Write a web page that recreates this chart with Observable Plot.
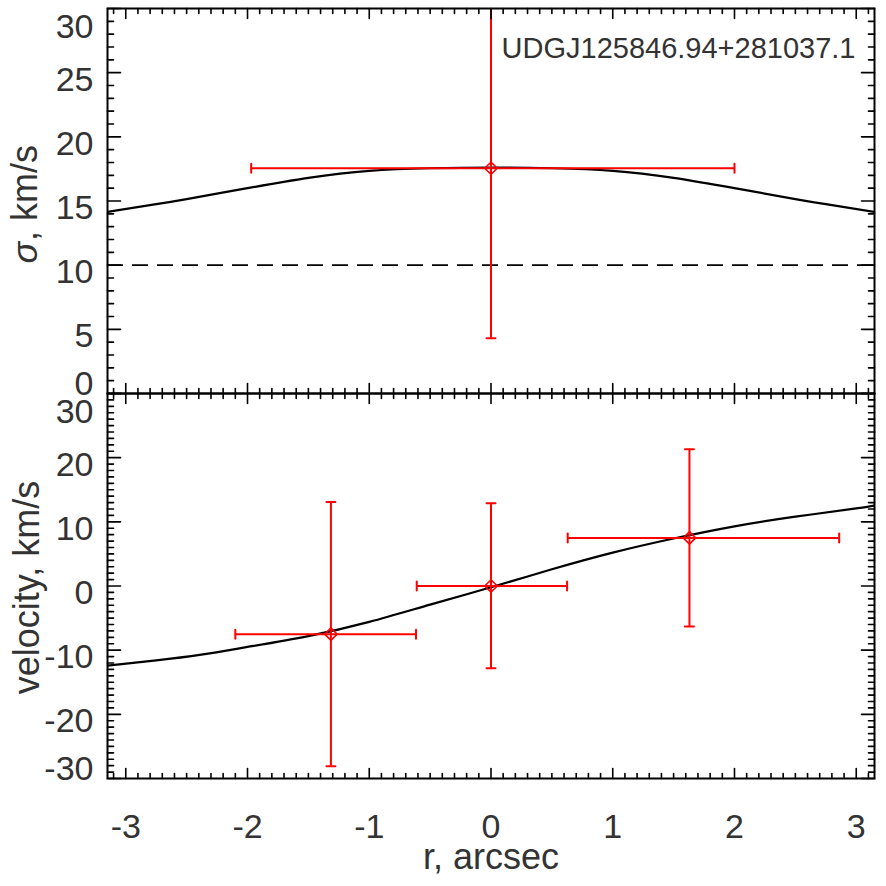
<!DOCTYPE html>
<html><head><meta charset="utf-8">
<script src="https://cdn.jsdelivr.net/npm/d3@7"></script>
<script src="https://cdn.jsdelivr.net/npm/@observablehq/plot@0.6"></script>
<style>
html,body{margin:0;padding:0;background:#fff;}
#chart{width:886px;height:886px;}
#chart svg{display:block;}
</style></head><body><div id="chart"></div>
<script>
// ---------- text ----------
const titleText = "UDGJ125846.94+281037.1";
const xTitle = "r, arcsec";
const sigmaSymbol = "σ";
const sigmaTitleRest = ", km/s";
const velTitle = "velocity, km/s";

// ---------- axes ----------
const xDomain = [-3.15, 3.15];
const xTickValues = [-3, -2, -1, 0, 1, 2, 3];
const sigmaDomain = [0, 30];
const sigmaTickValues = [0, 5, 10, 15, 20, 25, 30];
const velDomain = [-30, 30];
const velTickValues = [-30, -20, -10, 0, 10, 20, 30];
const sigmaRefLine = [10];

// ---------- sigma panel data ----------
const sigR = [0.0];
const sigV = [17.55];
const sigRLo = [-1.97];
const sigRHi = [2.0];
const sigVLo = [4.3];
const sigVHi = [30.8];

const sigModelR = [-3.15, -2.75, -2.5, -2.0, -1.5, -1.0, -0.5, 0.0, 0.5, 1.0, 1.5, 2.0, 2.5, 2.75, 3.15];
const sigModelV = [14.15, 14.75, 15.15, 16.0, 16.8, 17.35, 17.55, 17.6, 17.55, 17.35, 16.8, 16.0, 15.15, 14.75, 14.15];

// ---------- velocity panel data ----------
const velR = [-1.315, 0.0, 1.63];
const velV = [-7.5, 0.0, 7.5];
const velRLo = [-2.10, -0.61, 0.63];
const velRHi = [-0.616, 0.625, 2.86];
const velVLo = [-28.1, -12.8, -6.3];
const velVHi = [13.1, 12.9, 21.3];

const velModelR = [-3.15, -2.75, -2.38, -2.0, -1.5, -1.0, -0.5, 0.0, 0.5, 1.0, 1.5, 2.0, 2.5, 3.0, 3.15];
const velModelV = [-12.4, -11.6, -10.7, -9.5, -7.8, -5.6, -2.9, -0.2, 2.6, 5.2, 7.4, 9.3, 10.8, 12.1, 12.55];

// ---------- build ----------
const FONT = "'Liberation Sans', Arial, Helvetica, sans-serif";
const TXT = "#333";
const RED = "#ff0000";
const TICK_FS = 34;
const TITLE_FS = 36;
const tickShape = {draw(context, l) { context.moveTo(0, 0); context.lineTo(0, -l); }};

const sigPts = sigR.map((r, i) => ({r, v: sigV[i], rlo: sigRLo[i], rhi: sigRHi[i], vlo: sigVLo[i], vhi: sigVHi[i]}));
const velPts = velR.map((r, i) => ({r, v: velV[i], rlo: velRLo[i], rhi: velRHi[i], vlo: velVLo[i], vhi: velVHi[i]}));
const sigModel = sigModelR.map((r, i) => ({r, v: sigModelV[i]}));
const velModel = velModelR.map((r, i) => ({r, v: velModelV[i]}));

const xMinor = d3.range(-31, 32).map(i => i / 10).filter(v => Math.abs(v - Math.round(v)) > 1e-9);

function frameTicks(yDomain, yMajor, yMinor) {
  const [x0, x1] = xDomain, [y0, y1] = yDomain;
  const common = {stroke: "black", strokeWidth: 1.6, shape: tickShape, anchor: "start"};
  const out = [];
  for (const [vals, len] of [[xTickValues, 10], [xMinor, 5]]) {
    out.push(Plot.vector(vals, {...common, x: d => d, y: y0, rotate: 0, length: len}));
    out.push(Plot.vector(vals, {...common, x: d => d, y: y1, rotate: 180, length: len}));
  }
  for (const [vals, len] of [[yMajor, 13], [yMinor, 6]]) {
    out.push(Plot.vector(vals, {...common, y: d => d, x: x0, rotate: 90, length: len}));
    out.push(Plot.vector(vals, {...common, y: d => d, x: x1, rotate: -90, length: len}));
  }
  return out;
}

function yLabels(yDomain, vals) {
  const [lo, hi] = yDomain;
  const opts = {x: xDomain[0], y: d => d, text: d => String(d), textAnchor: "end", dx: -14, fontSize: TICK_FS, fill: TXT, fontFamily: FONT};
  return [
    Plot.text(vals.filter(v => v > lo && v < hi), {...opts, dy: 7}),
    Plot.text(vals.filter(v => v === hi), {...opts, dy: 19}),
    Plot.text(vals.filter(v => v === lo), {...opts, dy: -9})
  ];
}

function errorMarks(pts) {
  const cap = {stroke: RED, strokeWidth: 2, shape: tickShape, anchor: "middle", length: 9, clip: true};
  return [
    Plot.ruleY(pts, {y: "v", x1: "rlo", x2: "rhi", stroke: RED, strokeWidth: 2, clip: true}),
    Plot.ruleX(pts, {x: "r", y1: "vlo", y2: "vhi", stroke: RED, strokeWidth: 2, clip: true}),
    Plot.vector(pts, {...cap, x: "rlo", y: "v", rotate: 0}),
    Plot.vector(pts, {...cap, x: "rhi", y: "v", rotate: 0}),
    Plot.vector(pts, {...cap, x: "r", y: "vlo", rotate: 90}),
    Plot.vector(pts, {...cap, x: "r", y: "vhi", rotate: 90}),
    Plot.dot(pts, {x: "r", y: "v", symbol: "diamond2", r: 5.6, stroke: RED, strokeWidth: 1.6, fill: "none"})
  ];
}

const svgStyle = {background: "transparent", overflow: "visible", fontFamily: FONT};

const topPlot = Plot.plot({
  width: 886, height: 393,
  marginLeft: 107, marginRight: 12, marginTop: 8, marginBottom: 0,
  style: svgStyle,
  x: {domain: xDomain, axis: null},
  y: {domain: sigmaDomain, axis: null},
  marks: [
    Plot.ruleY(sigmaRefLine, {stroke: "black", strokeWidth: 1.6, strokeDasharray: "16,9"}),
    Plot.line(sigModel, {x: "r", y: "v", stroke: "black", strokeWidth: 2.2, curve: "natural", clip: true}),
    ...errorMarks(sigPts),
    Plot.frame({stroke: "black", strokeWidth: 2}),
    ...frameTicks(sigmaDomain, sigmaTickValues, d3.range(1, 30).filter(v => v % 5 !== 0)),
    ...yLabels(sigmaDomain, sigmaTickValues),
    Plot.text([sigmaSymbol], {frameAnchor: "left", rotate: -90, textAnchor: "start", dx: -82, dy: 62.5, fontSize: TITLE_FS, fontStyle: "italic", fill: TXT, fontFamily: FONT}),
    Plot.text([sigmaTitleRest], {frameAnchor: "left", rotate: -90, textAnchor: "start", dx: -82, dy: 40, fontSize: TITLE_FS, fill: TXT, fontFamily: FONT}),
    Plot.text([titleText], {frameAnchor: "top-right", textAnchor: "end", dx: -19, dy: 29, fontSize: 29, fill: TXT, fontFamily: FONT})
  ]
});

const bottomPlot = Plot.plot({
  width: 886, height: 493,
  marginLeft: 107, marginRight: 12, marginTop: 0, marginBottom: 108,
  style: svgStyle,
  x: {domain: xDomain, axis: null},
  y: {domain: velDomain, axis: null},
  marks: [
    Plot.line(velModel, {x: "r", y: "v", stroke: "black", strokeWidth: 2.2, curve: "natural", clip: true}),
    ...errorMarks(velPts),
    Plot.frame({stroke: "black", strokeWidth: 2}),
    ...frameTicks(velDomain, velTickValues, d3.range(-29, 30).filter(v => v % 10 !== 0)),
    ...yLabels(velDomain, velTickValues),
    Plot.text(xTickValues, {x: d => d, y: velDomain[0], text: d => String(d), dy: 49, fontSize: TICK_FS, fill: TXT, fontFamily: FONT}),
    Plot.text([xTitle], {frameAnchor: "bottom", textAnchor: "middle", dy: 90, fontSize: TITLE_FS, fill: TXT, fontFamily: FONT}),
    Plot.text([velTitle], {frameAnchor: "left", textAnchor: "middle", rotate: -90, dx: -80, dy: 1.5, fontSize: TITLE_FS, fill: TXT, fontFamily: FONT})
  ]
});

const el = document.getElementById("chart");
el.appendChild(topPlot);
el.appendChild(bottomPlot);
</script>
</body></html>
